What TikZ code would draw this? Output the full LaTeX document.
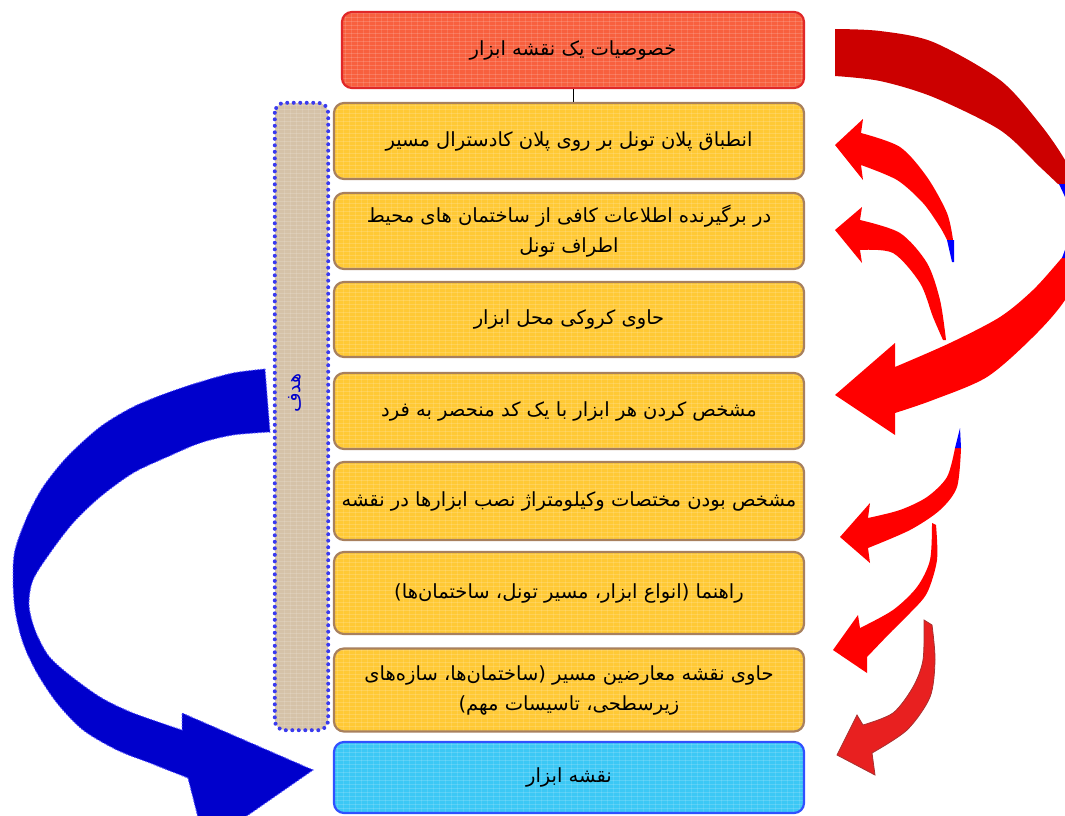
\documentclass[tikz,border=0pt]{standalone}
\usepackage{fontspec}
\newfontfamily\fa[Script=Arabic]{DejaVu Sans}
\TeXXeTstate=1
\definecolor{boxred}{HTML}{F8603E}
\definecolor{boxredline}{HTML}{E02828}
\definecolor{boxyellow}{HTML}{FFC935}
\definecolor{boxbrown}{HTML}{A8805E}
\definecolor{boxcyan}{HTML}{3CC8F5}
\definecolor{boxcyanline}{HTML}{3050FF}
\definecolor{bartan}{HTML}{D5C2A8}
\definecolor{barline}{HTML}{3A3AEE}
\definecolor{arrdark}{HTML}{CC0000}
\definecolor{arrbright}{HTML}{FF0000}
\definecolor{arrlast}{HTML}{E82020}
\definecolor{arrlastline}{HTML}{A83030}
\definecolor{arrblue}{HTML}{0000CC}
\definecolor{arrblueline}{HTML}{5050FF}
\definecolor{bitblue}{HTML}{0000FF}
\begin{document}
\begin{tikzpicture}[x=1pt,y=-1pt,
  texture/.style={path picture={
    \foreach \i in {2,6,...,#1} \draw[white, opacity=0.16, line width=1pt]
      ([yshift=-\i pt]path picture bounding box.north west) -- ([yshift=-\i pt]path picture bounding box.north east);
    \foreach \i in {3,9,...,480} \draw[white, opacity=0.12, line width=1pt]
      ([xshift=\i pt]path picture bounding box.north west) -- ([xshift=\i pt]path picture bounding box.south west);}},
  txt/.style={font=\fa\fontsize{19.5}{30}\selectfont, align=center},
  box/.style={txt, draw=boxbrown, line width=2.2pt, fill=boxyellow, rounded corners=10pt,
    minimum width=470pt, minimum height=#1, inner sep=0pt, texture=90},
  topbox/.style={box=#1, draw=boxredline, fill=boxred, minimum width=462pt},
  endbox/.style={box=#1, draw=boxcyanline, fill=boxcyan},
  goalbar/.style={fill=bartan, rounded corners=10pt, minimum width=53pt, minimum height=627pt, inner sep=0pt, texture=630},
  dotline/.style={draw=barline, line width=4pt, line cap=round, dash pattern=on 0pt off 6.5pt},
  redarrow/.style={fill=arrbright},
]
\useasboundingbox (0,0) rectangle (1065,816);
\begin{scope}
\clip (0,0) rectangle (1065,816);
% big red arrow, dark upper part
\fill[arrdark] plot[smooth] coordinates {(835,29) (880,31) (933,42) (1000,80) (1040,124) (1065,160) (1085,200)}
  -- (1075,186) -- plot[smooth] coordinates {(1058,184) (1040,167) (1000,130) (933,97) (880,81) (835,76)} -- cycle;
% big red arrow, bright lower part with head
\fill[arrbright] plot[smooth] coordinates {(1078,238) (1060,260) (1033,290) (1000,317) (950,343) (895,367)}
  -- (895,343) -- (835,395) -- (895,435)
  -- plot[smooth] coordinates {(895,413) (933,400) (987,377) (1033,337) (1065,300) (1090,250)} -- cycle;
\fill[bitblue] (1059,184) -- (1066,184) -- (1066,199) -- cycle;
\fill[bitblue] (1062,258) -- (1066,247) -- (1066,258) -- cycle;
% arrow to box 1
\fill[redarrow] (835,145) -- (863,119) -- plot[smooth] coordinates {(861,133) (900,147) (927,177) (947,213) (953,240)}
  -- plot[smooth] coordinates {(947,240) (940,227) (923,203) (897,180) (861,165)} -- (863,180) -- cycle;
\fill[bitblue] (947,240) -- (954,240) -- (954,262) -- (952,262) -- cycle;
% arrow to box 2
\fill[redarrow] (835,230) -- (862,207) -- plot[smooth] coordinates {(860,220) (900,233) (927,263) (940,300) (946,340)}
  -- plot[smooth] coordinates {(943,340) (933,317) (920,283) (893,253) (860,250)} -- (862,263) -- cycle;
% arrow to box 5
\fill[redarrow] (840,537) -- (870,503) -- plot[smooth] coordinates {(868,518) (900,510) (927,497) (947,477) (955,448)}
  -- plot[smooth] coordinates {(961,448) (957,487) (940,510) (910,530) (868,548)} -- (870,563) -- cycle;
\fill[bitblue] (955,448) -- (961,448) -- (960,428) -- cycle;
% arrow to box 6
\fill[redarrow] (833,650) -- (858,615) -- plot[smooth] coordinates {(860,628) (893,610) (917,587) (930,560) (932,523)}
  -- plot[smooth] coordinates {(936,525) (937,560) (927,593) (910,613) (890,633) (867,657)} -- (867,673) -- cycle;
% arrow to end box
\filldraw[fill=arrlast, draw=arrlastline, line width=0.8pt] (837,755) -- (857,715) -- plot[smooth] coordinates {(863,725) (893,713) (913,687) (923,660) (924,620)}
  -- plot[smooth] coordinates {(932,625) (935,660) (930,697) (907,730) (872,753)} -- (875,775) -- cycle;
% blue arrow
\filldraw[fill=arrblue, draw=arrblueline, line width=1pt, dash pattern=on 1.5pt off 1.5pt]
  plot[smooth] coordinates {(265,369) (233,373) (200,382) (167,393) (133,407) (100,427) (67,457) (43,487) (27,517) (15,550) (13,577) (15,610) (23,643) (37,673) (57,703) (83,730) (117,750) (150,763) (188,778)}
  -- (205,845) -- (313,770) -- (182,713)
  -- plot[smooth] coordinates {(182,730) (133,713) (100,697) (67,673) (48,655) (35,630) (29,605) (33,580) (50,553) (73,523) (100,497) (133,473) (167,457) (200,443) (233,435) (270,432)} -- cycle;
\end{scope}
% goal bar
\node[goalbar] (goal) at (301.5,416.5) {};
\draw[dotline, rounded corners=10pt] (goal.north west) rectangle (goal.south east);
\node[font=\fa\fontsize{19}{22}\selectfont, text=arrblue, rotate=90] (goaltxt) at (295,393) {\beginR هدف\endR};
% boxes
\node[topbox=76pt] (top) at (573,50) {\beginR خصوصیات یک نقشه ابزار\endR};
\node[box=76pt] (b1) at (569,141) {\beginR انطباق پلان تونل بر روی پلان کادسترال مسیر\endR};
\node[box=76pt] (b2) at (569,231) {\beginR در برگیرنده اطلاعات کافی از ساختمان های محیط\endR\\\beginR اطراف تونل\endR};
\node[box=75pt] (b3) at (569,319.5) {\beginR حاوی کروکی محل ابزار\endR};
\node[box=76pt] (b4) at (569,411) {\beginR مشخص کردن هر ابزار با یک کد منحصر به فرد\endR};
\node[box=78pt] (b5) at (569,501) {\beginR مشخص بودن مختصات وکیلومتراژ نصب ابزارها در نقشه\endR};
\node[box=82pt] (b6) at (569,593) {\beginR راهنما (انواع ابزار، مسیر تونل، ساختمان^^^^200cها)\endR};
\node[box=83pt] (b7) at (569,690) {\beginR حاوی نقشه معارضین مسیر (ساختمان^^^^200cها، سازه^^^^200cهای\endR\\\beginR زیرسطحی، تاسیسات مهم)\endR};
\node[endbox=71pt] (end) at (569,777.5) {\beginR نقشه ابزار\endR};
\draw[line width=0.8pt] (top.south) -- (top.south |- b1.north);
\end{tikzpicture}
\end{document}
